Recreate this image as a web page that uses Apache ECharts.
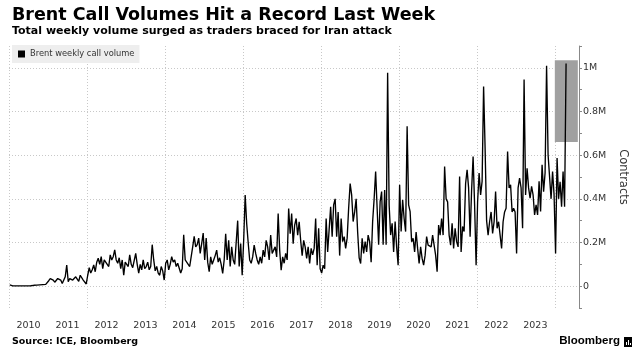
<!DOCTYPE html>
<html>
<head>
<meta charset="utf-8">
<script src="https://cdn.jsdelivr.net/npm/echarts@6/dist/echarts.min.js"></script>
<style>
html,body{margin:0;padding:0;background:#fff;}
#chart{width:639px;height:356px;}
</style>
</head>
<body>
<div id="chart"></div>
<script>
// ---- Data (weekly call volume, millions of contracts; ~biweekly samples per year) ----
const titleText = 'Brent Call Volumes Hit a Record Last Week';
const subtitleText = 'Total weekly volume surged as traders braced for Iran attack';
const sourceText = 'Source: ICE, Bloomberg';
const seriesName = 'Brent weekly call volume';
const yAxisName = 'Contracts';
const yearLabels = ['2010','2011','2012','2013','2014','2015','2016','2017','2018','2019','2020','2021','2022','2023'];
const yTickLabels = {0: '0', 2: '0.2M', 4: '0.4M', 6: '0.6M', 8: '0.8M', 10: '1M'};
const samplesPerYear = 26;

const vol2010 = [0.006,0.002,0.001,0.001,0.001,0.001,0.001,0.001,0.001,0.001,0.001,0.001,0.001,0.002,0.002,0.003,0.004,0.006,0.005,0.008,0.006,0.009,0.007,0.010,0.008,0.012];
const vol2011 = [0.025,0.035,0.030,0.028,0.018,0.022,0.035,0.030,0.028,0.012,0.020,0.043,0.097,0.020,0.035,0.040,0.028,0.036,0.043,0.035,0.022,0.050,0.043,0.028,0.020,0.010];
const vol2012 = [0.050,0.085,0.060,0.075,0.097,0.066,0.110,0.128,0.100,0.135,0.080,0.120,0.128,0.100,0.090,0.143,0.120,0.135,0.166,0.120,0.105,0.130,0.080,0.120,0.050,0.110];
const vol2013 = [0.110,0.090,0.143,0.100,0.085,0.090,0.150,0.100,0.060,0.100,0.075,0.120,0.080,0.090,0.110,0.075,0.090,0.190,0.120,0.070,0.090,0.060,0.050,0.090,0.070,0.028];
const vol2014 = [0.105,0.120,0.075,0.100,0.135,0.110,0.120,0.090,0.105,0.100,0.060,0.080,0.235,0.120,0.110,0.105,0.090,0.135,0.180,0.228,0.180,0.190,0.220,0.150,0.195,0.243];
const vol2015 = [0.120,0.220,0.110,0.066,0.134,0.100,0.120,0.140,0.165,0.110,0.130,0.100,0.058,0.120,0.240,0.120,0.210,0.090,0.180,0.120,0.100,0.200,0.300,0.090,0.195,0.050];
const vol2016 = [0.210,0.417,0.287,0.200,0.120,0.105,0.134,0.188,0.150,0.120,0.100,0.134,0.105,0.165,0.134,0.210,0.180,0.120,0.234,0.150,0.165,0.180,0.134,0.333,0.165,0.073];
const vol2017 = [0.134,0.105,0.150,0.120,0.356,0.240,0.333,0.195,0.280,0.310,0.234,0.295,0.210,0.140,0.210,0.180,0.127,0.180,0.104,0.173,0.143,0.173,0.310,0.096,0.265,0.080];
const vol2018 = [0.060,0.096,0.080,0.310,0.157,0.260,0.364,0.227,0.372,0.400,0.227,0.340,0.140,0.310,0.204,0.227,0.173,0.220,0.357,0.470,0.418,0.296,0.340,0.400,0.248,0.130];
const vol2019 = [0.104,0.219,0.150,0.204,0.157,0.234,0.204,0.110,0.296,0.400,0.525,0.357,0.190,0.387,0.433,0.190,0.440,0.190,0.977,0.372,0.234,0.288,0.157,0.296,0.180,0.096];
const vol2020 = [0.464,0.250,0.395,0.310,0.250,0.732,0.372,0.341,0.204,0.219,0.157,0.248,0.173,0.104,0.180,0.127,0.096,0.142,0.227,0.188,0.196,0.180,0.234,0.188,0.142,0.066];
const vol2021 = [0.280,0.234,0.310,0.234,0.548,0.400,0.386,0.234,0.188,0.288,0.173,0.265,0.204,0.180,0.502,0.157,0.273,0.250,0.470,0.533,0.450,0.227,0.440,0.594,0.372,0.096];
const vol2022 = [0.387,0.518,0.418,0.480,0.915,0.632,0.300,0.234,0.295,0.340,0.242,0.295,0.433,0.265,0.295,0.234,0.173,0.295,0.340,0.357,0.617,0.450,0.464,0.340,0.357,0.340];
const vol2023 = [0.150,0.450,0.495,0.450,0.265,0.946,0.418,0.540,0.450,0.403,0.457,0.418,0.326,0.372,0.326,0.480,0.342,0.556,0.433,0.518,1.010,0.602,0.610,0.400,0.525,0.418];
const vol2024 = [0.150,0.587,0.400,0.478,0.364,0.525,0.364,1.020];

// highlighted region (data units: year, million contracts)
const highlightX = [2024.0, 2024.59];
const highlightY = [0.66, 1.035];

const yearly = [
  [2010, vol2010],[2011, vol2011],[2012, vol2012],[2013, vol2013],[2014, vol2014],
  [2015, vol2015],[2016, vol2016],[2017, vol2017],[2018, vol2018],[2019, vol2019],
  [2020, vol2020],[2021, vol2021],[2022, vol2022],[2023, vol2023],[2024, vol2024]
];
const seriesData = [];
yearly.forEach(([yr, vals]) => {
  vals.forEach((v, i) => seriesData.push([yr + (i + 0.5) / samplesPerYear, v]));
});

const FONT = '"DejaVu Sans", Verdana, sans-serif';
const T = 'rgba(0,0,0,0)';
const chart = echarts.init(document.getElementById('chart'), null, {renderer: 'canvas'});
chart.setOption({
  animation: false,
  backgroundColor: '#ffffff',
  grid: {left: 9, right: 60, top: 46, bottom: 48, containLabel: false},
  legend: {
    show: true, left: 12, top: 45,
    backgroundColor: '#eeeeee', padding: [5, 5, 5, 6],
    itemWidth: 7, itemHeight: 7, itemGap: 5,
    icon: 'rect',
    textStyle: {fontFamily: FONT, fontSize: 8.3, color: '#333'},
    data: [{name: seriesName, itemStyle: {color: '#000'}}]
  },
  xAxis: {
    type: 'value', min: 2010, max: 2024.62, interval: 0.5,
    axisLine: {show: false}, axisTick: {show: false},
    axisLabel: {
      fontFamily: FONT, fontSize: 9.5, color: '#333', margin: 13,
      formatter: function (v) {
        const f = v - Math.floor(v);
        if (Math.abs(f - 0.5) > 1e-6) return '';
        const s = String(Math.floor(v));
        return yearLabels.indexOf(s) >= 0 ? s : '';
      }
    },
    splitLine: {show: true, lineStyle: {color: ['#c8c8c8', T, T, T], type: [1, 2], width: 1}}
  },
  yAxis: {
    type: 'value', position: 'right', min: -0.1, max: 1.1, interval: 0.1,
    name: yAxisName, nameLocation: 'middle', nameRotate: -90, nameGap: 36,
    nameTextStyle: {fontFamily: FONT, fontSize: 11.5, color: '#333'},
    axisLine: {show: true, lineStyle: {color: '#888', width: 1}},
    axisTick: {show: true, length: 3, lineStyle: {color: '#888'}},
    axisLabel: {
      fontFamily: FONT, fontSize: 9.5, color: '#333', margin: 4,
      formatter: function (v) {
        const r = Math.round(v * 10);
        return yTickLabels[r] !== undefined ? yTickLabels[r] : '';
      }
    },
    splitLine: {show: true, lineStyle: {color: [T, '#c8c8c8'], type: [1, 2], width: 1}}
  },
  series: [{
    name: seriesName, type: 'line', data: seriesData,
    showSymbol: false, symbol: 'none',
    lineStyle: {color: '#000', width: 1.35},
    itemStyle: {color: '#000'},
    markArea: {
      silent: true,
      itemStyle: {color: '#a0a0a0', opacity: 1},
      label: {show: false},
      data: [[{xAxis: highlightX[0], yAxis: highlightY[0]}, {xAxis: highlightX[1], yAxis: highlightY[1]}]]
    }
  }],
  graphic: [
    {type: 'text', left: 12, top: 6, style: {text: titleText, font: 'bold 17.5px ' + FONT, fill: '#000'}},
    {type: 'text', left: 12, top: 26, style: {text: subtitleText, font: 'bold 11px ' + FONT, fill: '#000'}},
    {type: 'text', left: 12, top: 337, style: {text: sourceText, font: 'bold 9.5px ' + FONT, fill: '#000'}},
    {type: 'text', right: 19, top: 335, style: {text: 'Bloomberg', font: '600 11.5px "Liberation Sans", Arial, sans-serif', fill: '#000'}},
    {type: 'group', left: 624, top: 337, children: [
      {type: 'rect', shape: {x: 0, y: 0, width: 8, height: 10}, style: {fill: '#000'}},
      {type: 'rect', shape: {x: 2, y: 5, width: 1, height: 3}, style: {fill: '#fff'}},
      {type: 'rect', shape: {x: 4, y: 3, width: 1, height: 5}, style: {fill: '#fff'}},
      {type: 'rect', shape: {x: 6, y: 6, width: 1, height: 2}, style: {fill: '#fff'}}
    ]}
  ]
});
</script>
</body>
</html>
